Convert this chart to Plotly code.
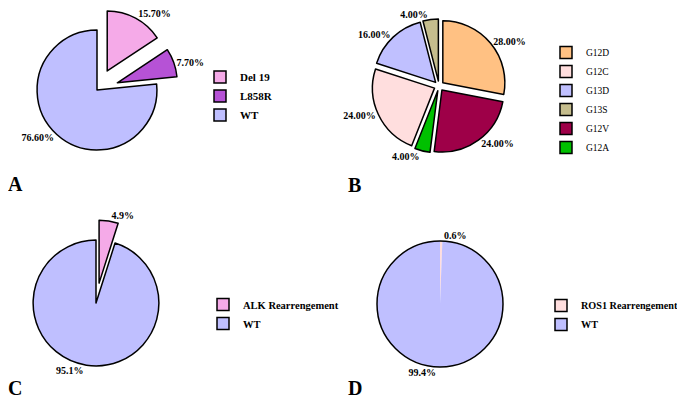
import plotly.graph_objects as go

# the page puts the figure 8 px in from the top-left corner of the window
OFF = 8
W, H = 685 - OFF, 401 - OFF

# ---- data ----
egfr_labels = ["Del 19", "L858R", "WT"]
egfr_values = [15.7, 7.7, 76.6]
egfr_text = ["15.70%", "7.70%", "76.60%"]

kras_labels = ["G12D", "G12V", "G12A", "G12C", "G13D", "G13S"]   # slice order (clockwise)
kras_values = [28, 24, 4, 24, 16, 4]
kras_text = ["28.00%", "24.00%", "4.00%", "24.00%", "16.00%", "4.00%"]
kras_legend_order = ["G12D", "G12C", "G13D", "G13S", "G12V", "G12A"]

alk_labels = ["ALK Rearrengement", "WT"]
alk_values = [4.9, 95.1]
alk_text = ["4.9%", "95.1%"]

ros1_labels = ["ROS1 Rearrengement", "WT"]
ros1_values = [0.6, 99.4]
ros1_text = ["0.6%", "99.4%"]

panel_letters = ["A", "B", "C", "D"]

# ---- styles ----
col = {
    "Del 19": "#F5AAE8", "L858R": "#B652D6", "WT": "#BFBFFF",
    "G12D": "#FFC183", "G12C": "#FFDEDE", "G13D": "#C0C0FF",
    "G13S": "#C5BD8D", "G12V": "#9E0048", "G12A": "#00C000",
    "ALK Rearrengement": "#F5AAE8", "ROS1 Rearrengement": "#FFDEDE",
}
SERIF = "Liberation Serif"
line = dict(color="black", width=1.5)
noline = dict(color="black", width=0)
tfont = dict(family=SERIF, size=10, color="black", weight="bold")


def px_x(x):
    return (x - OFF) / W


def px_y(y):
    return 1 - (y - OFF) / H


def dom(cx, cy, size):
    # square pie domain around window pixel centre (cx, cy)
    return dict(x=[px_x(cx - size / 2), px_x(cx + size / 2)],
                y=[px_y(cy + size / 2), px_y(cy - size / 2)])


def pie(labels, values, text, pull, domain, legend, group, mline=line, showlegend=True):
    return go.Pie(
        labels=labels, values=values, text=text, textinfo="text",
        textposition="outside", textfont=tfont, sort=False,
        direction="clockwise", rotation=0, pull=pull,
        marker=dict(colors=[col[l] for l in labels], line=mline),
        domain=domain, legend=legend, legendgroup=group, showlegend=showlegend,
        hoverinfo="label+percent",
    )


def legend_helper(labels, legend, group, domain):
    # tiny pie hidden under the main pie; it fixes legend order / swatch style
    return go.Pie(labels=labels, values=[1] * len(labels), textinfo="none",
                  sort=False, marker=dict(colors=[col[l] for l in labels], line=line),
                  domain=domain, legend=legend, legendgroup=group, hoverinfo="skip")


B_C, D_C = (439, 86), (440, 304)

fig = go.Figure()
fig.add_trace(pie(egfr_labels, egfr_values, egfr_text, [0.36, 0.36, 0],
                  dom(97, 90, 163), "legend", "A"))
fig.add_trace(legend_helper(kras_legend_order, "legend2", "B",
                            dom(B_C[0] - 20, B_C[1] + 20, 1)))
fig.add_trace(pie(kras_labels, kras_values, kras_text, [0.08] * 6,
                  dom(B_C[0], B_C[1], 134), "legend2", "B"))
fig.add_trace(pie(alk_labels, alk_values, alk_text, [0.32, 0],
                  dom(96, 303, 166), "legend3", "C"))
fig.add_trace(legend_helper(ros1_labels, "legend4", "D",
                            dom(D_C[0] - 20, D_C[1] + 20, 1)))
fig.add_trace(pie(ros1_labels, ros1_values, ros1_text, [0, 0],
                  dom(D_C[0], D_C[1], 126), "legend4", "D", mline=noline))
# black outline of pie D
fig.add_trace(go.Pie(labels=["all"], values=[sum(ros1_values)], textinfo="none",
                     marker=dict(colors=["rgba(0,0,0,0)"], line=line),
                     domain=dom(D_C[0], D_C[1], 126), showlegend=False, hoverinfo="skip"))

lfont_a = dict(family=SERIF, size=11, color="black", weight="bold")
lfont_c = dict(family=SERIF, size=10.5, color="black", weight="bold")
lfont_d = dict(family=SERIF, size=10.2, color="black", weight="bold")
lfont_r = dict(family=SERIF, size=9.5, color="black")


def leg(x, y, font):
    return dict(x=px_x(x), y=px_y(y), xanchor="left", yanchor="middle",
                font=font, bgcolor="rgba(0,0,0,0)", itemwidth=30,
                tracegroupgap=0)


letters_pos = [(6, 184), (346, 185), (6, 388), (346, 388)]
annotations = [
    dict(text=t, x=px_x(px), y=px_y(py), xref="paper", yref="paper",
         xanchor="left", yanchor="middle", showarrow=False,
         font=dict(family=SERIF, size=20, color="black", weight="bold"))
    for t, (px, py) in zip(panel_letters, letters_pos)
]

fig.update_layout(
    width=W, height=H, autosize=False,
    margin=dict(l=0, r=0, t=0, b=0, autoexpand=False),
    paper_bgcolor="white", plot_bgcolor="white",
    legend=leg(200, 96, lfont_a),
    legend2=leg(546, 100, lfont_r),
    legend3=leg(203, 314, lfont_c),
    legend4=leg(541, 315, lfont_d),
    annotations=annotations,
)

fig.write_html("out.html")
